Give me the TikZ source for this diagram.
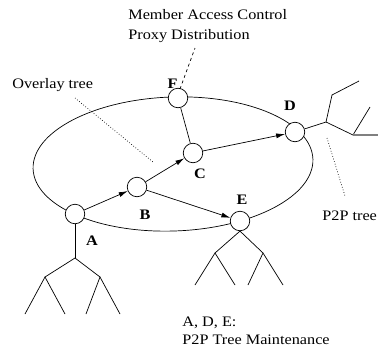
\documentclass[tikz,border=0pt]{standalone}
\usepackage{fontspec}
\setmainfont{Liberation Serif}[FakeStretch=1.12]
\usetikzlibrary{arrows.meta}
\tikzset{
	peer/.style = {circle, draw, fill=white, inner sep=0pt, minimum size=19.5pt},
	tag/.style = {font=\fontsize{14.5}{16}\selectfont\bfseries, inner sep=0pt, anchor=base},
	note/.style = {inner sep=0pt, anchor=base west},
	flow/.style = {-{Latex[length=9pt,width=5pt]}},
}
\begin{document}
\begin{tikzpicture}[x=1pt, y=-1pt, line width=0.7pt, font=\fontsize{14.5}{16}\selectfont]
\useasboundingbox (0,0) rectangle (378,354);
% overlay ring
\draw[rotate around={2:(173,164)}] (173,164) ellipse [x radius=140, y radius=67];
% peers
\node[peer] (F) at (178,98) {};
\node[peer] (C) at (193,153) {};
\node[peer] (B) at (137,187) {};
\node[peer] (A) at (75,214) {};
\node[peer] (D) at (295,132) {};
\node[peer] (E) at (240,221) {};
\node[tag] (lF) at (172.5,88) {F};
\node[tag] (lC) at (200,178) {C};
\node[tag] (lB) at (145,219) {B};
\node[tag] (lA) at (92,245) {A};
\node[tag] (lD) at (290,110) {D};
\node[tag] (lE) at (242,204) {E};
\draw[flow] (A) -- (B);
\draw[flow] (B) -- (C);
\draw[flow] (C) -- (D);
\draw[flow] (B) -- (E);
\draw (F) -- (C);
% subtree below A
\coordinate (a0) at (75,258);
\coordinate (a1) at (45,277);
\coordinate (a2) at (100,277);
\draw (A) -- (a0);
\draw (a1) -- (a0) -- (a2);
\draw (25,314) -- (a1) -- (65,314);
\draw (86,314) -- (a2) -- (120,314);
% subtree below E
\coordinate (e1) at (215,253);
\coordinate (e2) at (263,253);
\draw (e1) -- (E.south) -- (e2);
\draw (195,285) -- (e1) -- (235,285);
\draw (248,285) -- (e2) -- (283,285);
% subtree right of D
\coordinate (d0) at (326,122);
\coordinate (d1) at (353,135);
\draw (D) -- (d0) -- (332,95) -- (359,81);
\draw (d0) -- (d1) -- (370,107);
\draw[gray, line width=1.2pt] (d1) -- (378,135);
% notes
\node[note] (mac) at (128,19) {Member Access Control};
\node[note] (pd) at (128,39.5) {Proxy Distribution};
\node[note] (ov) at (12,88) {Overlay tree};
\node[note] (pt) at (322,220) {P2P tree};
\node[note] (ade) at (182,326) {A, D, E:};
\node[note] (tm) at (182,344) {P2P Tree Maintenance};
\coordinate (ov0) at (75,98);
\coordinate (ov1) at (153,162);
\coordinate (pd0) at (180,89);
\coordinate (pd1) at (195,48);
\coordinate (pt0) at (327,138);
\coordinate (pt1) at (345,196);
\draw[dotted] (ov0) -- (ov1);
\draw[dashed] (pd0) -- (pd1);
\draw[dotted] (pt0) -- (pt1);
\end{tikzpicture}
\end{document}
